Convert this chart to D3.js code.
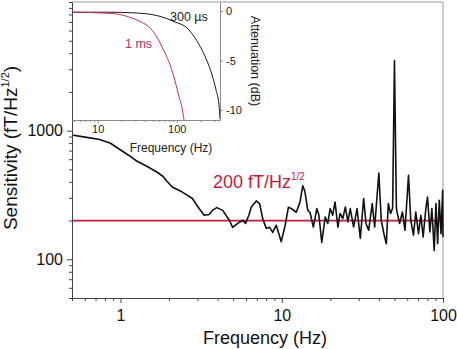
<!DOCTYPE html>
<html>
<head>
<meta charset="utf-8">
<script src="https://cdn.jsdelivr.net/npm/d3@7"></script>
<style>
  body { margin: 0; background: #fff; }
  svg { display: block; font-family: "Liberation Sans", Arial, sans-serif; }
</style>
</head>
<body>
<svg id="chart" width="457" height="349"></svg>
<script>
// main spectrum
let freq = [0.5, 0.604, 0.742, 0.866, 0.99, 1.122, 1.259, 1.454, 1.679, 1.83, 1.94, 2.093, 2.416, 2.79, 3.072, 3.30, 3.548, 3.72, 3.95, 4.30,
    4.73, 4.96, 5.33, 5.73, 5.96, 6.25, 6.47, 6.95, 7.29, 7.61, 8.0, 8.41, 8.78, 9.24, 9.93, 10.5, 11.0, 11.5, 12.3, 12.96,
    13.5, 13.9, 14.5, 14.96, 15.7, 16.5, 17.0, 17.7, 18.6, 19.3, 19.95, 20.7, 21.4, 22.3, 23.0, 23.9, 24.8, 25.7, 26.6, 27.9,
    29.3, 30.7, 32.2, 33.3, 34.6, 36.4, 37.7, 40.0, 41.4, 43.0, 44.5, 45.8, 47.3, 48.7, 50.0, 51.4, 52.1, 53.8, 56.0, 58.1,
    61.1, 63.1, 65.6, 67.8, 70.5, 72.9, 75.3, 78.3, 80.2, 82.9, 85.3, 88.2, 90.4, 92.6, 94.8, 97.2, 99.5, 100];
let sensitivity = [926, 891, 853, 798, 713, 644, 581, 528, 477, 442, 404, 365, 333, 297, 248, 220, 223, 240, 252, 240,
    201, 177, 190, 201, 190, 220, 255, 284, 271, 208, 174, 177, 162, 184, 137, 184, 254, 247, 232, 277,
    373, 338, 240, 232, 178, 248, 220, 135, 213, 190, 248, 220, 279, 178, 227, 207, 255, 195, 248, 178,
    248, 145, 297, 190, 168, 271, 178, 469, 201, 158, 132, 271, 227, 249, 3500, 249, 227, 190, 233, 168,
    450, 201, 154, 233, 158, 220, 149, 248, 305, 163, 248, 117, 271, 132, 288, 158, 344, 149];
let noiseFloor = 200;
let xTickValues = [1, 10, 100];
let yTickValues = [100, 1000];

// inset: filter attenuation
let insetFreq300us = [4.73, 14.3, 34.3, 61.5, 95.1, 134.9, 170.4, 208.9, 241.8, 279.8, 314.3, 342.8, 353];
let insetAtt300us = [-0.13, -0.13, -0.23, -0.55, -1.11, -1.71, -2.72, -3.93, -5.04, -6.45, -7.96, -9.47, -10.9];
let insetFreq1ms = [4.73, 10.7, 17.0, 25.6, 34.3, 45.9, 53.1, 61.5, 71.1, 82.3, 95.1, 106.9, 116.7, 123.7];
let insetAtt1ms = [-0.13, -0.2, -0.3, -0.65, -1.06, -1.71, -2.32, -3.22, -4.23, -5.44, -7.05, -8.66, -9.77, -10.98];
let insetXTickValues = [10, 100];
let insetYTickValues = [0, -5, -10];

class SensitivityChart {

    constructor(parentElement, settings) {
        this.svg = d3.select(parentElement);
        this.settings = {};
        this._putDefaultSettings();
        Object.assign(this.settings, settings || {});
    }

    _putDefaultSettings() {
        this.settings.left = 72;
        this.settings.right = 443;
        this.settings.top = 2;
        this.settings.bottom = 298;
        this.settings.insetRight = 220;
        this.settings.insetBottom = 120;
        this.settings.red = "#c8193c";
        this.settings.axisColor = "#444";
        this.settings.frameColor = "#9a9a9a";
    }

    data() {
        let s = this.settings;
        this.x = d3.scaleLog().domain([0.5, 100]).range([s.left, s.right]);
        this.y = d3.scaleLog().domain([50, 10000]).range([s.bottom, s.top]);
        this.ix = d3.scaleLog().domain([4.73, 353]).range([s.left, s.insetRight]);
        this.iy = d3.scaleLinear().domain([-11, 0.9]).range([s.insetBottom, s.top]);
        this.d = freq.map((f, i) => ({ f: f, v: sensitivity[i] }));
        return this;
    }

    redraw() {
        let s = this.settings;
        let svg = this.svg;
        let x = this.x, y = this.y;

        // frame (top / right)
        svg.append("path")
            .attr("d", `M${s.left},${s.top}H${s.right}V${s.bottom}`)
            .style("fill", "none")
            .style("stroke", s.frameColor)
            .style("stroke-width", 1);

        svg.append("line")
            .attr("x1", s.left).attr("x2", s.right)
            .attr("y1", y(noiseFloor)).attr("y2", y(noiseFloor))
            .style("stroke", s.red)
            .style("stroke-width", 1.7);

        let line = d3.line().x(d => x(d.f)).y(d => y(d.v));
        svg.append("path")
            .datum(this.d)
            .attr("d", line)
            .style("fill", "none")
            .style("stroke", "#111")
            .style("stroke-width", 1.6)
            .style("stroke-linejoin", "round");

        let xMinor = x.ticks().filter(t => xTickValues.indexOf(t) < 0);
        let yMinor = y.ticks().filter(t => yTickValues.indexOf(t) < 0);

        let gx = svg.append("g")
            .attr("class", "x axis")
            .attr("transform", `translate(0,${s.bottom})`)
            .call(d3.axisBottom(x).tickValues(xTickValues).tickFormat(d3.format("d")).tickSize(5).tickSizeOuter(0).tickPadding(4));
        svg.append("g")
            .attr("transform", `translate(0,${s.bottom})`)
            .call(d3.axisBottom(x).tickValues(xMinor).tickFormat("").tickSize(3).tickSizeOuter(0));

        let gy = svg.append("g")
            .attr("class", "y axis")
            .attr("transform", `translate(${s.left},0)`)
            .call(d3.axisLeft(y).tickValues(yTickValues).tickFormat(d3.format("d")).tickSize(5).tickSizeOuter(0).tickPadding(4));
        svg.append("g")
            .attr("transform", `translate(${s.left},0)`)
            .call(d3.axisLeft(y).tickValues(yMinor).tickFormat("").tickSize(3).tickSizeOuter(0));

        svg.selectAll(".axis text").style("font-size", "16px").style("fill", "#111");
        svg.selectAll("g path.domain, g .tick line").style("stroke", s.axisColor);
        gx.selectAll("text").attr("dy", "0.9em");

        svg.append("text")
            .attr("x", 265).attr("y", 344)
            .attr("text-anchor", "middle")
            .style("font-size", "18px").style("fill", "#111")
            .text("Frequency (Hz)");

        let ylab = svg.append("text")
            .attr("transform", "translate(17,148) rotate(-90)")
            .attr("text-anchor", "middle")
            .style("font-size", "19px").style("fill", "#111");
        ylab.append("tspan").text("Sensitivity (fT/Hz");
        ylab.append("tspan").attr("dy", -8).style("font-size", "11px").text("1/2");
        ylab.append("tspan").attr("dy", 8).text(")");

        let floorLab = svg.append("text")
            .attr("x", 213).attr("y", 188)
            .style("font-size", "18px").style("fill", s.red);
        floorLab.append("tspan").text("200 fT/Hz");
        floorLab.append("tspan").attr("dy", -8).style("font-size", "10px").text("1/2");

        this.drawInset();
        return this;
    }

    drawInset() {
        let s = this.settings;
        let ix = this.ix, iy = this.iy;
        let g = this.svg.append("g").attr("class", "inset");

        g.append("rect")
            .attr("x", s.left + 1).attr("y", s.top + 1)
            .attr("width", s.insetRight - s.left - 1)
            .attr("height", s.insetBottom - s.top - 1)
            .style("fill", "#fff");

        let curves = [
            { f: insetFreq300us, a: insetAtt300us, color: "#1a1a1a" },
            { f: insetFreq1ms, a: insetAtt1ms, color: "#b83250" }
        ];
        let line = d3.line().curve(d3.curveMonotoneX).x(d => ix(d[0])).y(d => iy(d[1]));
        g.selectAll("path.filter")
            .data(curves)
            .join("path")
            .attr("class", "filter")
            .attr("d", c => line(c.f.map((f, i) => [f, c.a[i]])))
            .style("fill", "none")
            .style("stroke", c => c.color)
            .style("stroke-width", 1);

        let ixMinor = ix.ticks().filter(t => insetXTickValues.indexOf(t) < 0);

        g.append("g")
            .attr("transform", `translate(0,${s.insetBottom})`)
            .call(d3.axisBottom(ix).tickValues(insetXTickValues).tickFormat(d3.format("d")).tickSize(3).tickSizeOuter(0).tickPadding(2));
        g.append("g")
            .attr("transform", `translate(0,${s.insetBottom})`)
            .call(d3.axisBottom(ix).tickValues(ixMinor).tickFormat("").tickSize(2).tickSizeOuter(0));

        g.append("g")
            .attr("transform", `translate(${s.insetRight},0)`)
            .call(d3.axisRight(iy).tickValues(insetYTickValues).tickFormat(d => d < 0 ? "-" + Math.abs(d) : d).tickSize(3).tickSizeOuter(0).tickPadding(3));

        g.selectAll("path.domain, .tick line").style("stroke", "#8a8a8a");
        g.selectAll(".tick text").style("font-size", "11px").style("fill", "#222");

        g.append("text")
            .attr("x", 171).attr("y", 152)
            .attr("text-anchor", "middle")
            .style("font-size", "12px").style("fill", "#222")
            .text("Frequency (Hz)");

        g.append("text")
            .attr("transform", "translate(251,61) rotate(90)")
            .attr("text-anchor", "middle")
            .style("font-size", "12.5px").style("fill", "#222")
            .text("Attenuation (dB)");

        g.append("text")
            .attr("x", 170).attr("y", 21)
            .style("font-size", "12.5px").style("fill", "#222")
            .text("300 µs");

        g.append("text")
            .attr("x", 125).attr("y", 48)
            .style("font-size", "12.5px").style("fill", "#b83250")
            .text("1 ms");
    }
}

let chart = new SensitivityChart("#chart").data().redraw();
</script>
</body>
</html>
